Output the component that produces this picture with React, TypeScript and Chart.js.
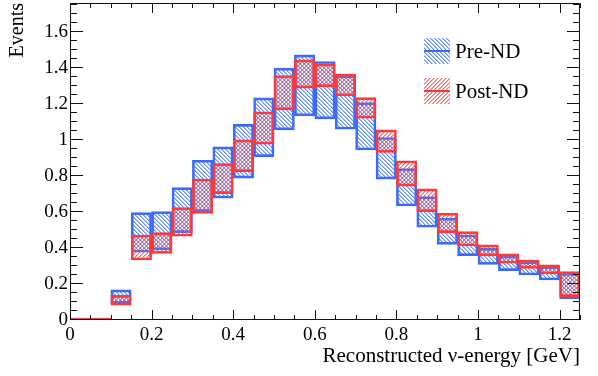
import React, { useEffect, useRef } from "react";
import { Chart, registerables } from "chart.js";

Chart.register(...registerables);

// Bin centres (bin width 0.05 GeV)
const BIN_CENTERS = [
  0.025, 0.075, 0.125, 0.175, 0.225, 0.275, 0.325, 0.375, 0.425, 0.475,
  0.525, 0.575, 0.625, 0.675, 0.725, 0.775, 0.825, 0.875, 0.925, 0.975,
  1.025, 1.075, 1.125, 1.175, 1.225,
];

// Pre-ND error band (low / high)
const PRE_LOW = [
  0, 0, 0.093, 0.376, 0.389, 0.485, 0.602, 0.676, 0.788, 0.907,
  1.056, 1.133, 1.117, 1.059, 0.944, 0.782, 0.633, 0.515, 0.42, 0.357,
  0.309, 0.274, 0.25, 0.222, 0.117,
];
const PRE_HIGH = [
  0, 0, 0.167, 0.596, 0.602, 0.735, 0.887, 0.961, 1.086, 1.233,
  1.398, 1.472, 1.435, 1.356, 1.207, 1.013, 0.84, 0.685, 0.565, 0.472,
  0.398, 0.356, 0.324, 0.296, 0.259,
];

// Post-ND error band (low / high)
const POST_LOW = [
  0, 0, 0.083, 0.333, 0.37, 0.465, 0.592, 0.702, 0.824, 0.976,
  1.167, 1.287, 1.296, 1.244, 1.12, 0.931, 0.743, 0.602, 0.485, 0.411,
  0.356, 0.315, 0.287, 0.256, 0.13,
];
const POST_HIGH = [
  0, 0, 0.137, 0.472, 0.485, 0.624, 0.783, 0.868, 1.0, 1.156,
  1.357, 1.444, 1.422, 1.365, 1.235, 1.056, 0.884, 0.728, 0.593, 0.491,
  0.417, 0.367, 0.333, 0.306, 0.269,
];

const SERIES_LABELS = ["Pre-ND", "Post-ND"];
const X_TITLE = "Reconstructed \u03bd-energy [GeV]";
const Y_TITLE = "Events";
const X_MIN = 0;
const X_MAX = 1.25;
const Y_MIN = 0;
const Y_MAX = 1.76;
const MAJOR_STEP = 0.2;
const MINOR_STEP = 0.05;

const BLUE = "rgb(60,105,250)";
const RED = "rgb(255,55,55)";
const FONT = "'Liberation Serif', 'Times New Roman', serif";

function makeHatch(rgb: [number, number, number], dir: "back" | "fwd"): CanvasPattern | string {
  const p = 4;
  const c = document.createElement("canvas");
  c.width = p;
  c.height = p;
  const g = c.getContext("2d");
  if (!g) return "transparent";
  const img = g.createImageData(p, p);
  const set = (x: number, y: number, a: number) => {
    x = ((x % p) + p) % p;
    y = ((y % p) + p) % p;
    const k = (y * p + x) * 4;
    img.data[k] = rgb[0];
    img.data[k + 1] = rgb[1];
    img.data[k + 2] = rgb[2];
    img.data[k + 3] = Math.max(img.data[k + 3], Math.round(a * 255));
  };
  for (let i = 0; i < p; i++) {
    const x = dir === "back" ? i : p - 1 - i;
    set(x, i, 0.85);
    set(x + 1, i, 0.45);
  }
  g.putImageData(img, 0, 0);
  const pat = g.createPattern(c, "repeat");
  return pat || "transparent";
}

const fmt = (v: number | string) => {
  const n = typeof v === "number" ? v : parseFloat(v);
  return String(parseFloat(n.toFixed(2)));
};

const rootStyle = {
  id: "rootStyle",
  afterDatasetsDraw(chart: any) {
    const { ctx, chartArea: a, scales } = chart;
    const xs = scales.x;
    const ys = scales.y;
    ctx.save();
    ctx.strokeStyle = "#111";
    ctx.lineWidth = 1;
    ctx.beginPath();
    const nx = Math.round((X_MAX - X_MIN) / MINOR_STEP);
    const per = Math.round(MAJOR_STEP / MINOR_STEP);
    for (let i = 0; i <= nx; i++) {
      const v = X_MIN + i * MINOR_STEP;
      const px = Math.round(xs.getPixelForValue(v)) + 0.5;
      const len = i % per === 0 ? 10 : 5;
      ctx.moveTo(px, a.bottom);
      ctx.lineTo(px, a.bottom - len);
      ctx.moveTo(px, a.top);
      ctx.lineTo(px, a.top + len);
    }
    const ny = Math.floor((Y_MAX - Y_MIN) / MINOR_STEP + 1e-9);
    for (let i = 0; i <= ny; i++) {
      const v = Y_MIN + i * MINOR_STEP;
      const py = Math.round(ys.getPixelForValue(v)) - 0.5;
      const len = i % per === 0 ? 13 : 7;
      ctx.moveTo(a.left, py);
      ctx.lineTo(a.left + len, py);
      ctx.moveTo(a.right, py);
      ctx.lineTo(a.right - len, py);
    }
    ctx.stroke();
    // frame
    ctx.beginPath();
    ctx.rect(Math.round(a.left) + 0.5, Math.round(a.top) + 0.5, Math.round(a.width) - 1, Math.round(a.height) - 1);
    ctx.stroke();

    // legend
    const order = [0, 1];
    const boxX = a.left + 354;
    const boxW = 26;
    const tops = [a.top + 35, a.top + 75];
    ctx.font = `21px ${FONT}`;
    ctx.textBaseline = "middle";
    ctx.textAlign = "left";
    order.forEach((di, k) => {
      const ds = chart.data.datasets[di];
      const top = tops[k];
      ctx.fillStyle = ds.backgroundColor;
      ctx.fillRect(boxX, top, boxW, boxW);
      ctx.strokeStyle = ds.borderColor;
      ctx.lineWidth = 2;
      ctx.beginPath();
      ctx.moveTo(boxX, top + boxW / 2);
      ctx.lineTo(boxX + boxW, top + boxW / 2);
      ctx.stroke();
      ctx.fillStyle = "#000";
      ctx.fillText(ds.label, boxX + boxW + 5, top + boxW / 2 + 1);
    });

    // axis titles
    ctx.fillStyle = "#000";
    ctx.font = `21px ${FONT}`;
    ctx.textAlign = "right";
    ctx.textBaseline = "alphabetic";
    ctx.fillText(X_TITLE, a.right, 362);
    ctx.save();
    ctx.translate(23, a.top);
    ctx.rotate(-Math.PI / 2);
    ctx.font = `20px ${FONT}`;
    ctx.textAlign = "right";
    ctx.fillText(Y_TITLE, 0, 0);
    ctx.restore();
    ctx.restore();
  },
};

export default function App() {
  const ref = useRef<HTMLCanvasElement | null>(null);
  useEffect(() => {
    if (!ref.current) return;
    const bluePat = makeHatch([80, 125, 255], "back");
    const redPat = makeHatch([255, 80, 80], "fwd");
    const common = {
      borderWidth: 2,
      borderSkipped: false,
      grouped: false,
      barPercentage: 1,
      categoryPercentage: 1,
      minBarLength: 2,
    };
    const chart = new Chart(ref.current, {
      type: "bar",
      data: {
        datasets: [
          {
            ...common,
            label: SERIES_LABELS[0],
            data: BIN_CENTERS.map((x, i) => ({ x, y: [PRE_LOW[i], PRE_HIGH[i]] })),
            backgroundColor: bluePat,
            borderColor: BLUE,
            order: 2,
          },
          {
            ...common,
            label: SERIES_LABELS[1],
            data: BIN_CENTERS.map((x, i) => ({ x, y: [POST_LOW[i], POST_HIGH[i]] })),
            backgroundColor: redPat,
            borderColor: RED,
            order: 1,
          },
        ],
      } as any,
      options: {
        animation: false,
        responsive: true,
        maintainAspectRatio: false,
        layout: { padding: { top: 3, right: 18, left: 0, bottom: 0 } },
        plugins: { legend: { display: false }, tooltip: { enabled: false } },
        scales: {
          x: {
            type: "linear",
            min: X_MIN,
            max: X_MAX,
            offset: false,
            grid: { display: false, drawTicks: false, offset: false },
            border: { display: false },
            ticks: {
              stepSize: MAJOR_STEP,
              includeBounds: false,
              padding: 4,
              color: "#000",
              maxRotation: 0,
              autoSkip: false,
              font: { family: FONT, size: 19 },
              callback: (v: any) => fmt(v),
            },
            afterFit: (s: any) => {
              s.height = 56;
              s.paddingLeft = 0;
              s.paddingRight = 0;
            },
          },
          y: {
            type: "linear",
            min: Y_MIN,
            max: Y_MAX,
            grid: { display: false, drawTicks: false },
            border: { display: false },
            ticks: {
              stepSize: MAJOR_STEP,
              includeBounds: false,
              padding: 2,
              color: "#000",
              autoSkip: false,
              font: { family: FONT, size: 19 },
              callback: (v: any) => fmt(v),
            },
            afterFit: (s: any) => {
              s.width = 70;
              s.paddingTop = 0;
              s.paddingBottom = 0;
            },
          },
        },
      } as any,
      plugins: [rootStyle],
    });
    return () => chart.destroy();
  }, []);
  return (
    <div style={{ position: "absolute", left: 0, top: 0, width: 598, height: 376, background: "#fff" }}>
      <canvas ref={ref} />
    </div>
  );
}
